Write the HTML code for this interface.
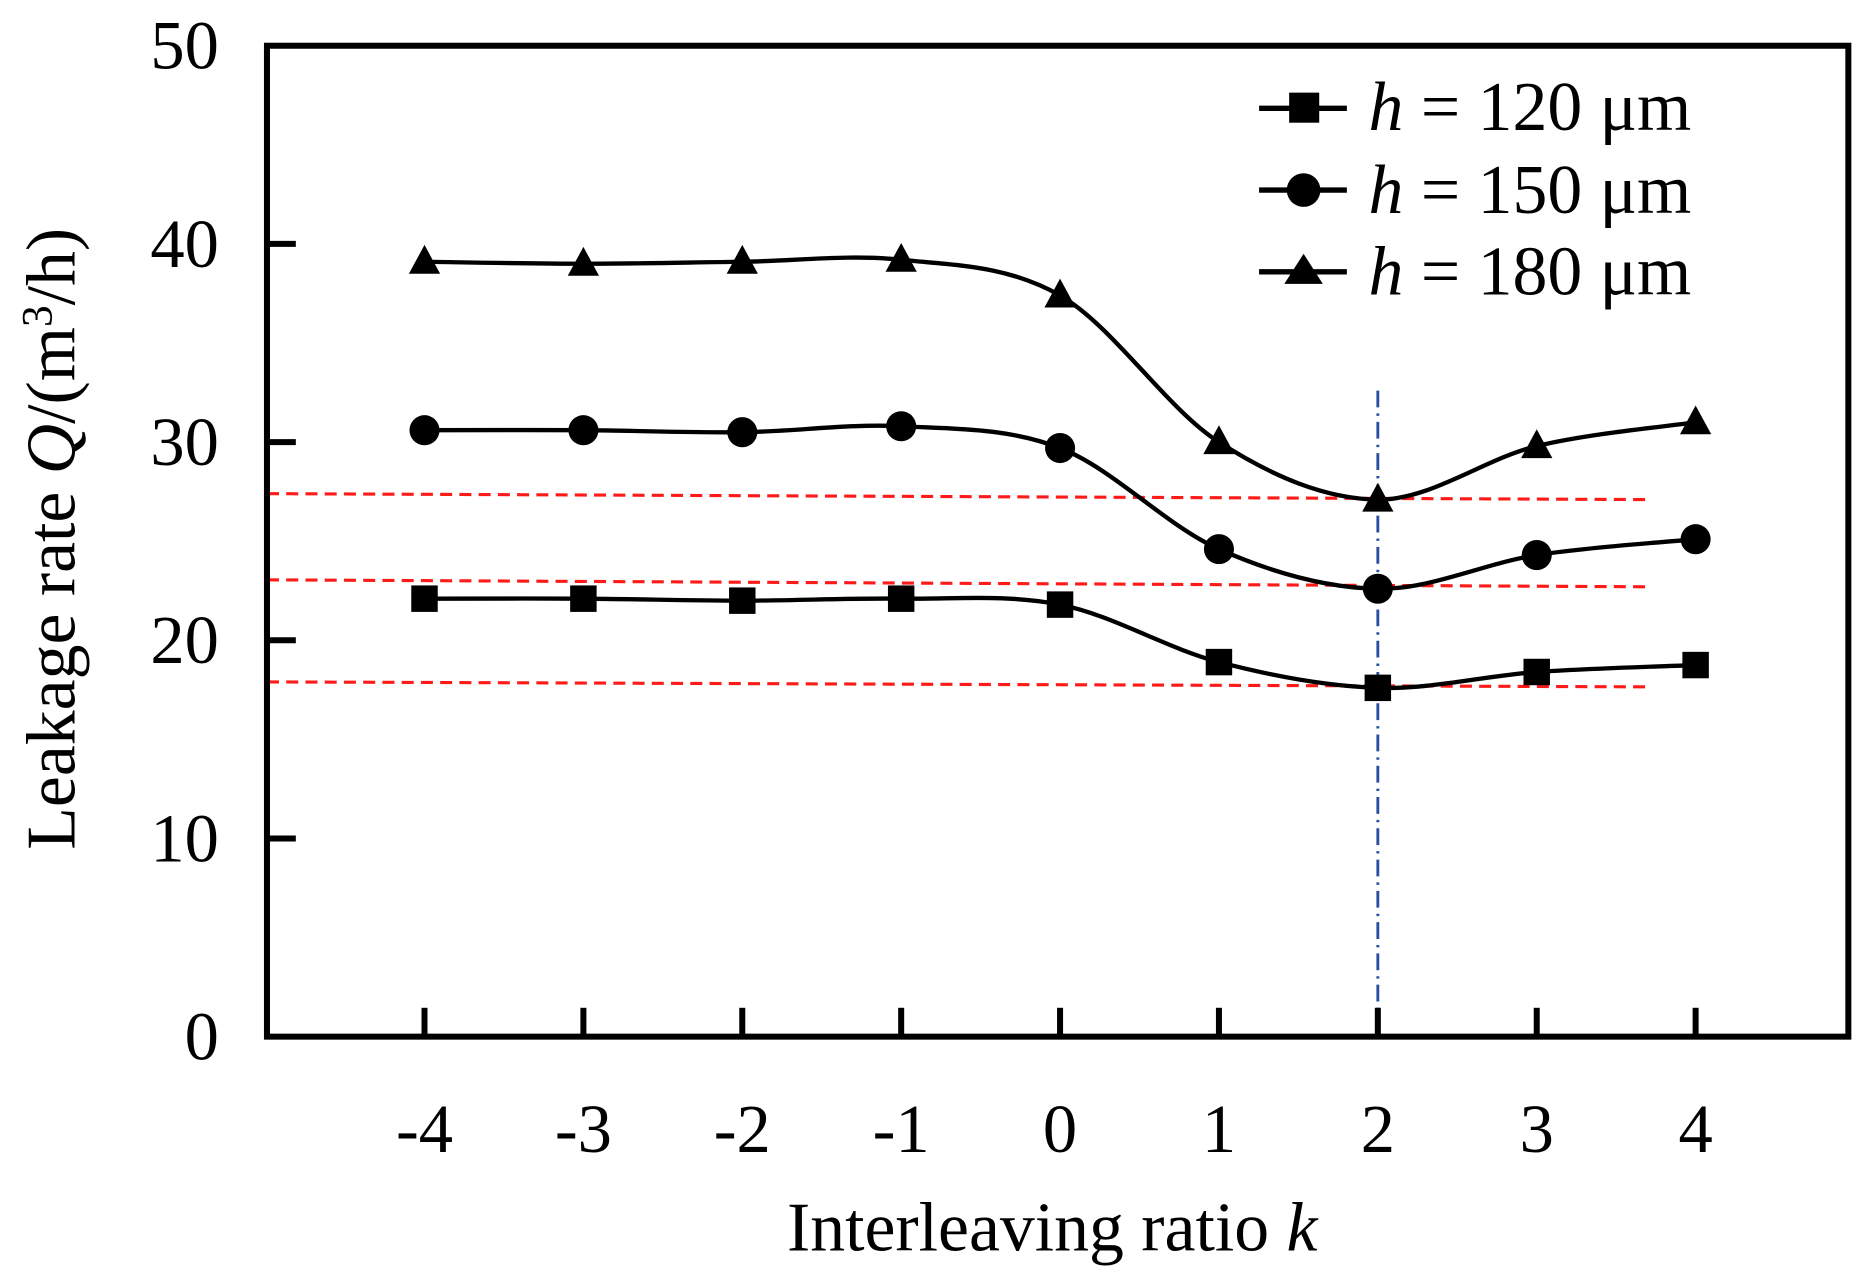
<!DOCTYPE html>
<html><head><meta charset="utf-8"><style>
html,body{margin:0;padding:0;background:#fff;}
svg{display:block;font-family:"Liberation Serif",serif;}
text{font-family:"Liberation Serif",serif;}
</style></head><body>
<svg id="chart" width="1876" height="1276" viewBox="0 0 1560 1061" xmlns="http://www.w3.org/2000/svg">
<g id="plot"></g>
</svg>
<script>
const categories = [-4,-3,-2,-1,0,1,2,3,4];
const series120 = [22.1,22.1,22.0,22.1,21.8,18.9,17.6,18.4,18.75];
const series150 = [30.6,30.6,30.5,30.8,29.7,24.6,22.6,24.3,25.1];
const series180 = [39.1,39.0,39.1,39.2,37.4,30.0,27.1,29.8,31.0];
const yTicks = [0,10,20,30,40,50];
const refLines = [[27.4,27.1],[23.05,22.7],[17.9,17.65]];
const refX = [-4.99,3.7];
const vLineK = 2, vLineTop = 32.6;

const L=222,R=1537,T=38,B=862;
const xs = k => 353 + (k+4)*(1410-353)/8;
const ys = v => B - v*(B-T)/50;
const NS="http://www.w3.org/2000/svg";
const svg=document.getElementById('plot');
function mk(tag,attrs,parent){const e=document.createElementNS(NS,tag);for(const a in attrs)e.setAttribute(a,attrs[a]);(parent||svg).appendChild(e);return e;}

refLines.forEach((r,i)=>{
  const e=mk('line',{x1:L,y1:ys(r[0]),x2:xs(refX[1]),y2:ys(r[1]),stroke:'#ff1a1a','stroke-width':2.6,'stroke-dasharray':'10,6'});
  
  
});
const vl=mk('line',{x1:xs(vLineK),y1:ys(vLineTop),x2:xs(vLineK),y2:B,stroke:'#2a4fa0','stroke-width':2.4,'stroke-dasharray':'14,5,2,5'});



function smooth(pts){
  let d='M'+pts[0][0]+','+pts[0][1];
  for(let i=0;i<pts.length-1;i++){
    const p0=pts[i-1]||pts[i],p1=pts[i],p2=pts[i+1],p3=pts[i+2]||p2;
    const c1=[p1[0]+(p2[0]-p0[0])/6,p1[1]+(p2[1]-p0[1])/6];
    const c2=[p2[0]-(p3[0]-p1[0])/6,p2[1]-(p3[1]-p1[1])/6];
    d+=' C'+c1+' '+c2+' '+p2;
  }
  return d;
}
function marker(type,x,y,name){
  let e;
  if(type==='sq') e=mk('rect',{x:x-11,y:y-11,width:22,height:22,fill:'#000'});
  else if(type==='ci') e=mk('circle',{cx:x,cy:y,r:12.5,fill:'#000'});
  else e=mk('polygon',{points:`${x},${y-14} ${x+13},${y+10} ${x-13},${y+10}`,fill:'#000'});
  
  
}
const all=[[series120,'sq','h120'],[series150,'ci','h150'],[series180,'tr','h180']];
all.forEach(([s,t,n])=>{
  const pts=categories.map((k,i)=>[xs(k),ys(s[i])]);
  const p=mk('path',{d:smooth(pts),fill:'none',stroke:'#000','stroke-width':3.6});
  
  
  pts.forEach((q,i)=>marker(t,q[0],q[1],'point-'+n+'-k'+categories[i]));
});

const box=mk('rect',{x:L,y:T,width:R-L,height:B-T,fill:'none',stroke:'#000','stroke-width':5});


yTicks.forEach(v=>{
  if(v>0&&v<50){const t=mk('line',{x1:L,y1:ys(v),x2:L+24,y2:ys(v),stroke:'#000','stroke-width':5});
  
  }
  const tx=mk('text',{x:182,y:ys(v)+19,'text-anchor':'end','font-size':57});
  tx.textContent=v;
  
  
});
categories.forEach(k=>{
  const t=mk('line',{x1:xs(k),y1:B,x2:xs(k),y2:B-24,stroke:'#000','stroke-width':5});
  
  
  const tx=mk('text',{x:xs(k),y:958,'text-anchor':'middle','font-size':57});
  tx.textContent=k;
  
  
});
</script>
<svg style="position:absolute;left:0;top:0" width="1876" height="1276" viewBox="0 0 1560 1061" xmlns="http://www.w3.org/2000/svg">
<text x="875" y="1040" text-anchor="middle" font-size="58">Interleaving ratio <tspan font-style="italic">k</tspan></text>
<text transform="translate(62,448) rotate(-90)" text-anchor="middle" font-size="58">Leakage rate <tspan font-style="italic">Q</tspan>/(m<tspan font-size="36" dy="-19">3</tspan><tspan dy="19">/h)</tspan></text>
<g>
<line x1="1047" y1="90" x2="1120" y2="90" stroke="#000" stroke-width="4.5"/><rect x="1072" y="77" width="25" height="25" fill="#000"/>
<text x="1138" y="108" font-size="58"><tspan font-style="italic">h</tspan> = 120 μm</text>
<line x1="1047" y1="158" x2="1120" y2="158" stroke="#000" stroke-width="4.5"/><circle cx="1084" cy="158" r="14" fill="#000"/>
<text x="1138" y="177" font-size="58"><tspan font-style="italic">h</tspan> = 150 μm</text>
<line x1="1047" y1="226" x2="1120" y2="226" stroke="#000" stroke-width="4.5"/><polygon points="1084,211 1100,236 1068,236" fill="#000"/>
<text x="1138" y="245" font-size="58"><tspan font-style="italic">h</tspan> = 180 μm</text>
</g>
</svg>
</body></html>
